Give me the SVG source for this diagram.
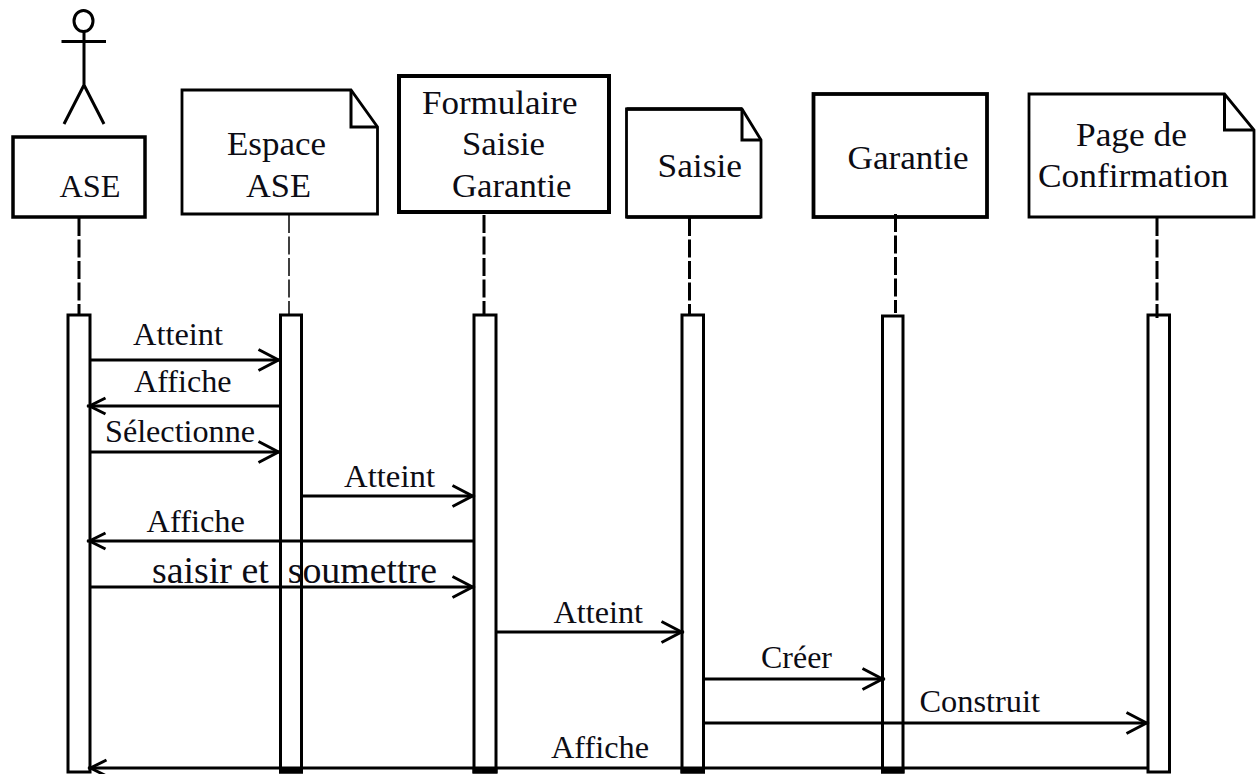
<svg xmlns="http://www.w3.org/2000/svg" width="1257" height="774" viewBox="0 0 1257 774">
<style>
text{font-family:"Liberation Serif","Times New Roman",serif;font-size:32px;fill:#0c0c14}
.n{font-size:34.5px}
.big{font-size:37.500px}
.box{fill:#fff;stroke:#000;stroke-linejoin:miter}
.life{fill:none;stroke:#000;stroke-width:3;stroke-dasharray:18 3.5}
.thin{stroke-width:1.500}
.act{fill:#fff;stroke:#000;stroke-width:3}
.foot{fill:#000;stroke:none}
.fold{fill:none;stroke:#000;stroke-width:3}
.msg{fill:none;stroke:#000;stroke-width:3}
.r{marker-end:url(#openR)}
.l{marker-end:url(#openL)}
.stick{fill:none;stroke:#000;stroke-width:3}
</style>
<defs>
<marker id="openR" markerUnits="userSpaceOnUse" markerWidth="28" markerHeight="26" refX="24.500" refY="12" orient="auto"><path d="M2 1.500L22 12L2 22.500" fill="none" stroke="#000" stroke-width="3"/></marker>
<marker id="openL" markerUnits="userSpaceOnUse" markerWidth="24" markerHeight="22" refX="20.500" refY="10" orient="auto"><path d="M2 2L18 10L2 18" fill="none" stroke="#000" stroke-width="3"/></marker>
</defs>
<rect width="1257" height="774" fill="#fff"/>
<g id="node-ase">
<g id="actor"><ellipse class="stick" cx="83.500" cy="21" rx="9.500" ry="10.500"/><path class="stick" d="M84 31V85M61.500 41.500H106M84 85L64 124M84 85L104 124"/></g>
<rect class="box" x="13" y="137" width="132" height="80" stroke-width="3.500"/>
<text x="59.500" y="197" textLength="61" lengthAdjust="spacingAndGlyphs">ASE</text>
<line class="life" x1="79" y1="218" x2="79" y2="315"/>
<rect class="act" x="68" y="315" width="22" height="457"/>
</g>
<g id="node-espace">
<path class="box" stroke-width="2.800" d="M182 90H351L377.500 127V214H182Z"/>
<path class="fold" d="M351 90V127H377.500"/>
<text class="n" x="227" y="155" textLength="99" lengthAdjust="spacingAndGlyphs">Espace</text>
<text class="n" x="246" y="197" textLength="65" lengthAdjust="spacingAndGlyphs">ASE</text>
<line class="life thin" x1="289" y1="215" x2="289" y2="315"/>
<rect class="act" x="280.500" y="315" width="21" height="457"/>
<rect class="foot" x="279" y="767" width="24" height="6.500"/>
</g>
<g id="node-formulaire">
<rect class="box" x="399" y="76" width="210" height="136" stroke-width="4"/>
<text class="n" x="422" y="114" textLength="155.500" lengthAdjust="spacingAndGlyphs">Formulaire</text>
<text class="n" x="462" y="155" textLength="83" lengthAdjust="spacingAndGlyphs">Saisie</text>
<text class="n" x="452" y="197" textLength="119.500" lengthAdjust="spacingAndGlyphs">Garantie</text>
<line class="life" x1="484" y1="215" x2="484" y2="315"/>
<rect class="act" x="474" y="315" width="22" height="457"/>
<rect class="foot" x="472.500" y="767" width="25" height="6.500"/>
</g>
<g id="node-saisie">
<path class="box" stroke-width="2.800" d="M626.500 109H742L761 140V217H626.500Z"/>
<path class="fold" d="M742 109V140H761"/>
<path d="M626.500 109H742M626.500 217H761" fill="none" stroke="#000" stroke-width="3.500"/>
<text class="n" x="657.500" y="177" textLength="84.500" lengthAdjust="spacingAndGlyphs">Saisie</text>
<line class="life" x1="689.500" y1="218" x2="689.500" y2="315"/>
<rect class="act" x="682" y="315" width="21.500" height="457"/>
<rect class="foot" x="680.500" y="767" width="24.500" height="6.500"/>
</g>
<g id="node-garantie">
<rect class="box" x="813.500" y="94" width="173.500" height="123" stroke-width="3.800"/>
<text class="n" x="847.500" y="169" textLength="121" lengthAdjust="spacingAndGlyphs">Garantie</text>
<line class="life" x1="895.500" y1="214" x2="895.500" y2="313"/>
<rect class="act" x="882.500" y="316" width="20.500" height="456"/>
<rect class="foot" x="881" y="767" width="23.500" height="6.500"/>
</g>
<g id="node-page">
<path class="box" stroke-width="2.800" d="M1029 94H1224.500L1254 130V217H1029Z"/>
<path class="fold" d="M1224.500 94V130H1254"/>
<text class="n" x="1076" y="146" textLength="111" lengthAdjust="spacingAndGlyphs">Page de</text>
<text class="n" x="1038" y="187" textLength="190.500" lengthAdjust="spacingAndGlyphs">Confirmation</text>
<rect class="act" x="1148" y="315" width="21.500" height="457"/>
<line class="life" x1="1157" y1="218" x2="1157" y2="318"/>
</g>
<g id="connectors">
<line class="msg r" x1="90" y1="360" x2="281" y2="360"/>
<line class="msg l" x1="280" y1="406" x2="87" y2="406"/>
<line class="msg r" x1="90" y1="452" x2="281" y2="452"/>
<line class="msg r" x1="301" y1="496" x2="475" y2="496"/>
<line class="msg l" x1="474" y1="541" x2="87" y2="541"/>
<line class="msg r" x1="90" y1="587" x2="475" y2="587"/>
<line class="msg r" x1="496" y1="632" x2="684" y2="632"/>
<line class="msg r" x1="704" y1="679" x2="885" y2="679"/>
<line class="msg r" x1="704" y1="723" x2="1149" y2="723"/>
<line class="msg l" x1="1148" y1="768" x2="88" y2="768"/>
<text x="133" y="345" textLength="90" lengthAdjust="spacingAndGlyphs">Atteint</text>
<text x="134" y="392" textLength="97.500" lengthAdjust="spacingAndGlyphs">Affiche</text>
<text x="105" y="441.500" textLength="150" lengthAdjust="spacingAndGlyphs">Sélectionne</text>
<text x="344" y="486.500" textLength="91" lengthAdjust="spacingAndGlyphs">Atteint</text>
<text x="146.500" y="531.500" textLength="98.500" lengthAdjust="spacingAndGlyphs">Affiche</text>
<text class="big" x="152" y="582.500" textLength="285" lengthAdjust="spacingAndGlyphs" xml:space="preserve">saisir et  soumettre</text>
<text x="553.500" y="622.500" textLength="89.500" lengthAdjust="spacingAndGlyphs">Atteint</text>
<text x="761" y="668" textLength="71" lengthAdjust="spacingAndGlyphs">Créer</text>
<text x="919.500" y="711.500" textLength="120.500" lengthAdjust="spacingAndGlyphs">Construit</text>
<text x="551" y="758" textLength="98" lengthAdjust="spacingAndGlyphs">Affiche</text>
</g>
</svg>
